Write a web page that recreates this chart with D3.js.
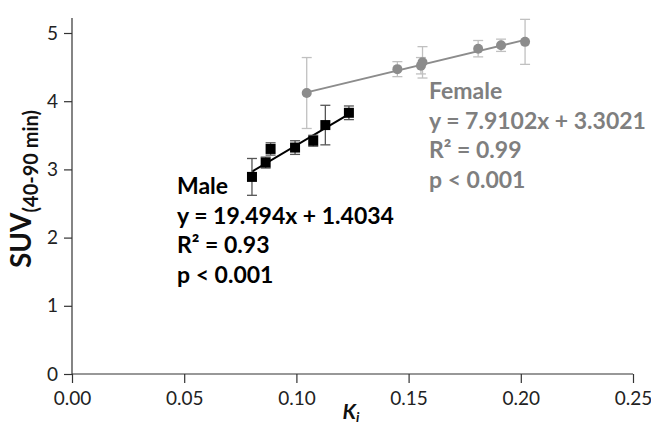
<!DOCTYPE html>
<html>
<head>
<meta charset="utf-8">
<script src="https://cdn.jsdelivr.net/npm/d3@7"></script>
<style>
  body { margin: 0; background: #fff; }
  text { font-family: Lato, "Open Sans", sans-serif; }
</style>
</head>
<body>
<div id="chart"></div>
<script>
(function(d3) {
  'use strict';

  // male: Ki, SUV, error
  var maleKi  = [0.0802, 0.0863, 0.0885, 0.0994, 0.1075, 0.1129, 0.1234];
  var maleSuv = [2.89, 3.10, 3.30, 3.32, 3.42, 3.65, 3.83];
  var maleErr = [0.27, 0.08, 0.09, 0.10, 0.08, 0.29, 0.10];

  // female
  var femaleKi  = [0.1046, 0.1450, 0.1555, 0.1562, 0.1810, 0.1912, 0.2019];
  var femaleSuv = [4.12, 4.47, 4.52, 4.57, 4.77, 4.82, 4.87];
  var femaleErr = [0.52, 0.11, 0.12, 0.23, 0.12, 0.09, 0.33];

  var fitSlope = [19.494, 7.9102];
  var fitIntercept = [1.4034, 3.3021];

  var xTicks = [0, 0.05, 0.10, 0.15, 0.20, 0.25];
  var yTicks = [0, 1, 2, 3, 4, 5];

  var maleText = ['Male', 'y = 19.494x + 1.4034', 'R² = 0.93', 'p < 0.001'];
  var femaleText = ['Female', 'y = 7.9102x + 3.3021', 'R² = 0.99', 'p < 0.001'];

  var width = 651, height = 428;

  var svg = d3.select('#chart').append('svg')
    .attr('width', width)
    .attr('height', height);

  var x = d3.scaleLinear().domain([0, 0.25]).range([72, 633]);
  var y = d3.scaleLinear().domain([0, 5]).range([374, 33]);

  // axes
  var xAxis = svg.append('g')
    .attr('transform', 'translate(0,' + y(0) + ')')
    .call(d3.axisBottom(x).tickValues(xTicks).tickFormat(d3.format('.2f')).tickSize(9).tickPadding(9));
  var yAxis = svg.append('g')
    .attr('transform', 'translate(' + x(0) + ',0)')
    .call(d3.axisLeft(y).tickValues(yTicks).tickFormat(d3.format('d')).tickSize(8).tickPadding(6));

  [xAxis, yAxis].forEach(function(a) {
    a.select('.domain').remove();
    a.selectAll('line').attr('stroke', '#333').attr('stroke-width', 1.2);
    a.selectAll('text').attr('fill', '#222').style('font-size', '19px')
      .style('font-family', 'Lato, sans-serif');
  });

  svg.append('line')
    .attr('x1', x(0)).attr('x2', x(0.25))
    .attr('y1', y(0)).attr('y2', y(0))
    .attr('stroke', '#333').attr('stroke-width', 1.2);
  svg.append('line')
    .attr('x1', x(0)).attr('x2', x(0))
    .attr('y1', y(0)).attr('y2', y(5.22))
    .attr('stroke', '#333').attr('stroke-width', 1.2);

  // axis titles
  var yl = svg.append('text')
    .attr('transform', 'translate(31,189) rotate(-90)')
    .attr('text-anchor', 'middle')
    .attr('fill', '#111')
    .style('font-weight', 'bold');
  yl.append('tspan').style('font-size', '28px').text('SUV');
  yl.append('tspan').style('font-size', '20px').attr('dy', 7).text('(40-90 min)');

  var xl = svg.append('text')
    .attr('x', 351).attr('y', 419)
    .attr('text-anchor', 'middle')
    .attr('fill', '#111')
    .style('font-weight', 'bold')
    .style('font-style', 'italic');
  xl.append('tspan').style('font-size', '21px').text('K');
  xl.append('tspan').style('font-size', '14px').attr('dy', 3).text('i');

  function drawSeries(ki, suv, err, idx, color, barColor, shape) {
    var data = ki.map(function(k, i) { return { k: k, v: suv[i], e: err[i] }; });
    var g = svg.append('g');

    var k0 = d3.min(ki), k1 = d3.max(ki);
    g.append('line')
      .attr('x1', x(k0)).attr('x2', x(k1))
      .attr('y1', y(fitSlope[idx] * k0 + fitIntercept[idx]))
      .attr('y2', y(fitSlope[idx] * k1 + fitIntercept[idx]))
      .attr('stroke', color).attr('stroke-width', 2);

    var eb = g.selectAll('.err').data(data).enter().append('g')
      .attr('stroke', barColor).attr('stroke-width', 1.3);
    eb.append('line')
      .attr('x1', function(d) { return x(d.k); })
      .attr('x2', function(d) { return x(d.k); })
      .attr('y1', function(d) { return y(d.v - d.e); })
      .attr('y2', function(d) { return y(d.v + d.e); });
    eb.append('line')
      .attr('x1', function(d) { return x(d.k) - 5; })
      .attr('x2', function(d) { return x(d.k) + 5; })
      .attr('y1', function(d) { return y(d.v + d.e); })
      .attr('y2', function(d) { return y(d.v + d.e); });
    eb.append('line')
      .attr('x1', function(d) { return x(d.k) - 5; })
      .attr('x2', function(d) { return x(d.k) + 5; })
      .attr('y1', function(d) { return y(d.v - d.e); })
      .attr('y2', function(d) { return y(d.v - d.e); });

    if (shape === 'square') {
      g.selectAll('.pt').data(data).enter().append('rect')
        .attr('x', function(d) { return x(d.k) - 5; })
        .attr('y', function(d) { return y(d.v) - 5; })
        .attr('width', 10).attr('height', 10)
        .attr('fill', color);
    } else {
      g.selectAll('.pt').data(data).enter().append('circle')
        .attr('cx', function(d) { return x(d.k); })
        .attr('cy', function(d) { return y(d.v); })
        .attr('r', 5)
        .attr('fill', color);
    }
  }

  drawSeries(femaleKi, femaleSuv, femaleErr, 1, '#8c8c8c', '#c0c0c0', 'circle');
  drawSeries(maleKi, maleSuv, maleErr, 0, '#000', '#555', 'square');

  function drawNote(lines, x0, y0, color) {
    var t = svg.append('text').attr('fill', color)
      .style('font-weight', 'bold').style('font-size', '23px');
    lines.forEach(function(s, i) {
      t.append('tspan').attr('x', x0).attr('y', y0 + i * 29.5).text(s);
    });
  }

  drawNote(maleText, 177, 194, '#000');
  drawNote(femaleText, 429, 99, '#7f7f7f');

})(window.d3);
</script>
</body>
</html>
